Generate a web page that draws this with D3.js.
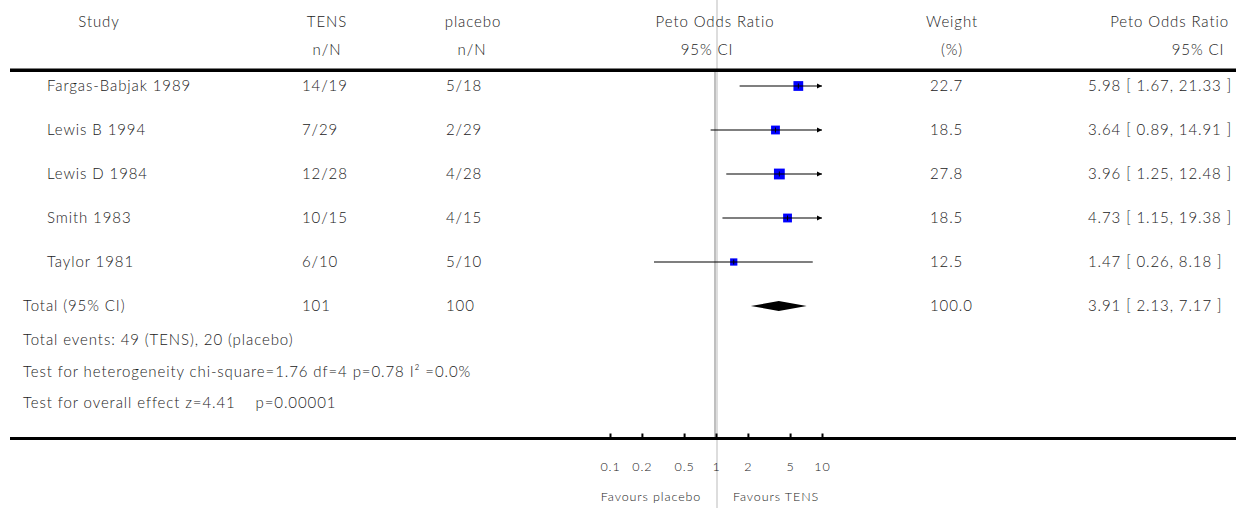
<!DOCTYPE html>
<html>
<head>
<meta charset="utf-8">
<title>Forest plot</title>
<script src="https://d3js.org/d3.v7.min.js"></script>
<style>
  body { margin: 0; background: #fff; }
  text { font-family: Lato, "Open Sans", sans-serif; font-weight: 300; fill: #222; letter-spacing: 0.9px; }
</style>
</head>
<body>
<svg id="chart" width="1236" height="508"></svg>
<script>
// study data
var studies = ["Fargas-Babjak 1989", "Lewis B 1994", "Lewis D 1984", "Smith 1983", "Taylor 1981"];
var tensN = [14, 7, 12, 10, 6];
var tensTotal = [19, 29, 28, 15, 10];
var placeboN = [5, 2, 4, 4, 5];
var placeboTotal = [18, 29, 28, 15, 10];
var weights = [22.7, 18.5, 27.8, 18.5, 12.5];
var oddsRatio = [5.98, 3.64, 3.96, 4.73, 1.47];
var ciLow = [1.67, 0.89, 1.25, 1.15, 0.26];
var ciHigh = [21.33, 14.91, 12.48, 19.38, 8.18];

// pooled
var totalTens = 101, totalPlacebo = 100, totalWeight = 100.0;
var totalOR = 3.91, totalLow = 2.13, totalHigh = 7.17;
var footLines = [
  "Total events: 49 (TENS), 20 (placebo)",
  "Test for heterogeneity chi-square=1.76 df=4 p=0.78 I\u00b2 =0.0%",
  "Test for overall effect z=4.41\u00a0\u00a0\u00a0\u00a0p=0.00001"
];

var tickValues = [0.1, 0.2, 0.5, 1, 2, 5, 10];
var tickLabels = ["0.1", "0.2", "0.5", "1", "2", "5", "10"];

var svg = d3.select("#chart");
var W = 1236;

var x = d3.scaleLog().domain([0.1, 10]).range([610, 822]);
var rowY = d3.scaleLinear().domain([0, 1]).range([86, 130]);
var boxSize = d3.scaleSqrt().domain([0, 100]).range([0, 20.5]);

// column positions
var colStudy = 47, colTens = 302, colPlac = 446, colWeight = 930, colCI = 1088;

// vertical reference lines
svg.append("line").attr("x1", 717).attr("x2", 717).attr("y1", 0).attr("y2", 508)
  .attr("stroke", "#ddd").attr("stroke-width", 2);
svg.append("line").attr("x1", 715).attr("x2", 715).attr("y1", 72).attr("y2", 437)
  .attr("stroke", "#aaa").attr("stroke-width", 1.5);

// header
var head = svg.append("g").style("font-size", "15px");
function htext(xp, yp, s, anchor) {
  head.append("text").attr("x", xp).attr("y", yp).attr("dy", "0.35em")
    .attr("text-anchor", anchor || "middle").text(s);
}
htext(99, 21.5, "Study");
htext(327, 21.5, "TENS");
htext(327, 50, "n/N");
htext(473, 21.5, "placebo");
htext(472, 50, "n/N");
htext(715, 21.5, "Peto Odds Ratio");
htext(707, 50, "95% CI");
htext(952, 21.5, "Weight");
htext(952, 50, "(%)");
htext(1229, 21.5, "Peto Odds Ratio", "end");
htext(1198, 50, "95% CI");

// rules
svg.append("rect").attr("x", 10).attr("y", 68.5).attr("width", W - 10).attr("height", 3.5).attr("fill", "#000");
svg.append("rect").attr("x", 10).attr("y", 437).attr("width", W - 10).attr("height", 3).attr("fill", "#000");

// rows
var rows = svg.append("g").style("font-size", "15px");
studies.forEach(function(s, i) {
  var y = rowY(i);
  var t = function(xp, str) {
    rows.append("text").attr("x", xp).attr("y", y).attr("dy", "0.35em").text(str);
  };
  t(colStudy, s);
  t(colTens, tensN[i] + "/" + tensTotal[i]);
  t(colPlac, placeboN[i] + "/" + placeboTotal[i]);
  t(colWeight, weights[i].toFixed(1));
  t(colCI, oddsRatio[i].toFixed(2) + " [ " + ciLow[i].toFixed(2) + ", " + ciHigh[i].toFixed(2) + " ]");
});

// squares and CI lines
var plot = svg.append("g");
studies.forEach(function(s, i) {
  var y = rowY(i);
  var sz = boxSize(weights[i]);
  var cx = x(oddsRatio[i]);
  plot.append("rect").attr("x", cx - sz / 2).attr("y", y - sz / 2)
    .attr("width", sz).attr("height", sz).attr("fill", "#0000ff");
  var lo = x(Math.max(ciLow[i], 0.1)), hi = x(Math.min(ciHigh[i], 10));
  plot.append("line").attr("x1", lo).attr("x2", hi).attr("y1", y).attr("y2", y)
    .attr("stroke", "#000").attr("stroke-width", 1.2);
  plot.append("line").attr("x1", cx).attr("x2", cx).attr("y1", y - 2.5).attr("y2", y + 2.5)
    .attr("stroke", "#000").attr("stroke-width", 1);
  if (ciHigh[i] > 10) {
    plot.append("path")
      .attr("d", "M" + (hi - 5) + "," + (y - 2.5) + "L" + hi + "," + y + "L" + (hi - 5) + "," + (y + 2.5) + "Z")
      .attr("fill", "#000");
  }
});

// total row
var totalY = 306;
rows.append("text").attr("x", 23).attr("y", totalY).attr("dy", "0.35em").text("Total (95% CI)");
rows.append("text").attr("x", colTens).attr("y", totalY).attr("dy", "0.35em").text(totalTens);
rows.append("text").attr("x", colPlac).attr("y", totalY).attr("dy", "0.35em").text(totalPlacebo);
rows.append("text").attr("x", colWeight).attr("y", totalY).attr("dy", "0.35em").text(totalWeight.toFixed(1));
rows.append("text").attr("x", colCI).attr("y", totalY).attr("dy", "0.35em")
  .text(totalOR.toFixed(2) + " [ " + totalLow.toFixed(2) + ", " + totalHigh.toFixed(2) + " ]");
plot.append("path")
  .attr("d", "M" + x(totalLow) + "," + totalY + "L" + x(totalOR) + "," + (totalY - 5) +
    "L" + x(totalHigh) + "," + totalY + "L" + x(totalOR) + "," + (totalY + 5) + "Z")
  .attr("fill", "#000");

// footnotes
var footY = [340, 372, 403];
footLines.forEach(function(s, i) {
  rows.append("text").attr("x", 23).attr("y", footY[i]).attr("dy", "0.35em").text(s);
});

// axis
var axis = d3.axisBottom(x).tickValues(tickValues)
  .tickFormat(function(d, i) { return tickLabels[i]; })
  .tickSizeInner(-5).tickSizeOuter(0).tickPadding(24);
var ax = svg.append("g").attr("transform", "translate(0,438.5)").call(axis);
ax.select(".domain").remove();
ax.selectAll(".tick line").attr("stroke", "#000").attr("stroke-width", 2);
ax.selectAll(".tick text").style("font-size", "12.5px").style("font-family", "Lato, sans-serif")
  .style("font-weight", 300).attr("fill", "#222");

svg.append("text").attr("x", 651).attr("y", 497).attr("dy", "0.35em").attr("text-anchor", "middle")
  .style("font-size", "12.5px").text("Favours placebo");
svg.append("text").attr("x", 776).attr("y", 497).attr("dy", "0.35em").attr("text-anchor", "middle")
  .style("font-size", "12.5px").text("Favours TENS");
</script>
</body>
</html>
